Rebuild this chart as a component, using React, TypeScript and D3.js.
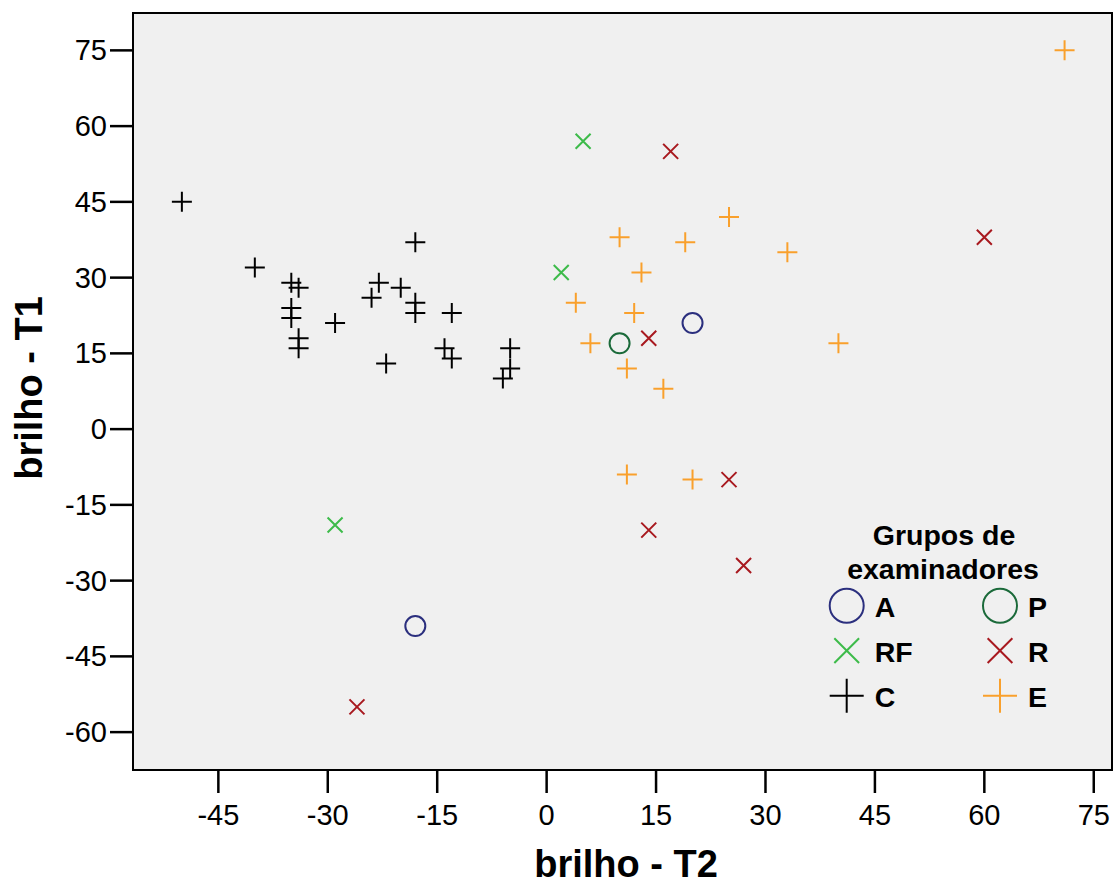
import React from 'react';
import * as d3 from 'd3';

// values (brilho - T2, brilho - T1)
const aX = [20, -18];
const aY = [21, -39];
const pX = [10];
const pY = [17];
const rfX = [5, 2, -29];
const rfY = [57, 31, -19];
const rX = [17, 60, 14, 25, 14, 27, -26];
const rY = [55, 38, 18, -10, -20, -27, -55];
const cX = [-50, -40, -35, -34, -35, -35, -34, -34, -29, -23, -24, -20, -18, -18, -18, -13, -22, -14, -13, -5, -5, -6];
const cY = [45, 32, 29, 28, 24, 22, 18, 16, 21, 29, 26, 28, 37, 25, 23, 23, 13, 16, 14, 16, 12, 10];
const eX = [71, 25, 10, 19, 33, 13, 4, 12, 6, 40, 11, 16, 11, 20];
const eY = [75, 42, 38, 37, 35, 31, 25, 23, 17, 17, 12, 8, -9, -10];

const tickValues = [-60, -45, -30, -15, 0, 15, 30, 45, 60, 75];
const xTickValues = [-45, -30, -15, 0, 15, 30, 45, 60, 75];

const groups = [
  { key: 'A', xs: aX, ys: aY, shape: 'circle', color: '#2b2f7e' },
  { key: 'P', xs: pX, ys: pY, shape: 'circle', color: '#1b6a3a' },
  { key: 'RF', xs: rfX, ys: rfY, shape: 'x', color: '#3dbb4a' },
  { key: 'R', xs: rX, ys: rY, shape: 'x', color: '#a8191f' },
  { key: 'C', xs: cX, ys: cY, shape: 'plus', color: '#000000' },
  { key: 'E', xs: eX, ys: eY, shape: 'plus', color: '#f9a02c' },
];

const W = 1115;
const H = 884;
const left = 133, right = 1112, top = 13, bottom = 770;
const font = '"Liberation Sans", Arial, sans-serif';

const Marker = ({ shape, color, x, y, s = 1 }) => {
  if (shape === 'circle') {
    return <circle cx={x} cy={y} r={10 * s} fill="none" stroke={color} strokeWidth={2} />;
  }
  if (shape === 'x') {
    const h = 7.5 * s;
    return (
      <path d={`M${x - h},${y - h}L${x + h},${y + h}M${x - h},${y + h}L${x + h},${y - h}`}
        stroke={color} strokeWidth={2} fill="none" />
    );
  }
  const h = 10 * s;
  return (
    <path d={`M${x - h},${y}L${x + h},${y}M${x},${y - h}L${x},${y + h}`}
      stroke={color} strokeWidth={2} fill="none" />
  );
};

export default function App() {
  const x = d3.scaleLinear().domain([-56.7, 77.5]).range([left, right]);
  const y = d3.scaleLinear().domain([-67.5, 82.4]).range([bottom, top]);

  const legendCols = [846.7, 1000];
  const legendRows = [605.7, 650.7, 695.7];

  return (
    <svg width={W} height={H} style={{ position: 'absolute', left: 0, top: 0, background: '#fff' }}
      fontFamily={font}>
      <rect x={left} y={top} width={right - left} height={bottom - top} fill="#f0f0f0" />

      {groups.map(g =>
        g.xs.map((v, i) => (
          <Marker key={g.key + i} shape={g.shape} color={g.color} x={x(v)} y={y(g.ys[i])} />
        ))
      )}

      <rect x={left} y={top} width={right - left} height={bottom - top} fill="none" stroke="#000" strokeWidth={2} />

      {tickValues.map(t => (
        <g key={'y' + t}>
          <line x1={left - 23} x2={left} y1={y(t)} y2={y(t)} stroke="#000" strokeWidth={2.5} />
          <text x={left - 26} y={y(t) + 10} fontSize={29} textAnchor="end">{t}</text>
        </g>
      ))}
      {xTickValues.map(t => (
        <g key={'x' + t}>
          <line x1={x(t)} x2={x(t)} y1={bottom} y2={bottom + 23} stroke="#000" strokeWidth={2.5} />
          <text x={x(t)} y={bottom + 55} fontSize={29} textAnchor="middle">{t}</text>
        </g>
      ))}

      <text x={626} y={877} fontSize={38} fontWeight="bold" textAnchor="middle">brilho - T2</text>
      <text transform="translate(42,388) rotate(-90)" fontSize={38} fontWeight="bold" textAnchor="middle">brilho - T1</text>

      <text x={944} y={545} fontSize={28.5} fontWeight="bold" textAnchor="middle">Grupos de</text>
      <text x={943} y={579} fontSize={28.5} fontWeight="bold" textAnchor="middle">examinadores</text>
      {groups.map((g, i) => {
        const lx = legendCols[i % 2];
        const ly = legendRows[Math.floor(i / 2)];
        return (
          <g key={'leg' + g.key}>
            <Marker shape={g.shape} color={g.color} x={lx} y={ly} s={g.shape === 'x' ? 1.65 : 1.7} />
            <text x={lx + 28} y={ly + 11} fontSize={28.5} fontWeight="bold">{g.key}</text>
          </g>
        );
      })}
    </svg>
  );
}
